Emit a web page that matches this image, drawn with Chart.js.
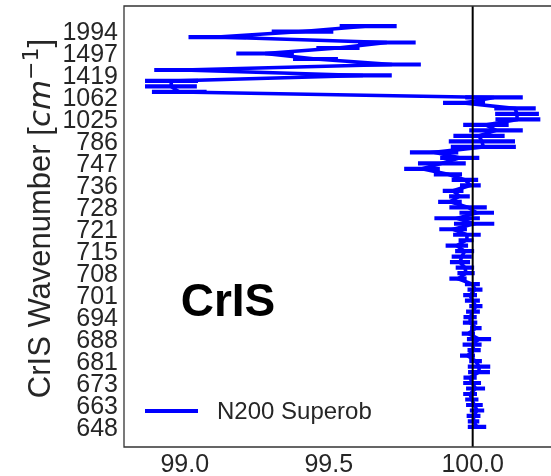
<!DOCTYPE html>
<html>
<head>
<meta charset="utf-8">
<script src="https://cdn.jsdelivr.net/npm/chart.js@4"></script>
<style>
  html, body { margin: 0; padding: 0; background: #fff; }
  #wrap { width: 551px; height: 476px; }
</style>
</head>
<body>
<div id="wrap"><canvas id="crisChart" width="551" height="476"></canvas></div>
<script>
// wavenumber labels shown on every 4th channel, bottom to top
const wavenumberLabels = ['648', '663', '673', '681', '688', '694', '701', '708', '715', '721',
  '728', '736', '747', '786', '1025', '1062', '1419', '1497', '1994'];
const tickStep = 4;

// N200 superob values per channel position (bottom = 0)
const superobValues = [
  100.015, 100.003, 100.003, 100.015, 100.006, 99.997, 99.991, 100.010, 99.998, 99.991,
  100.022, 100.022, 100.010, 99.982, 100.005, 99.998, 100.022, 99.985, 100.011, 99.991,
  99.991, 100.001, 100.011, 99.999, 99.991, 100.008, 99.999, 99.949, 99.977, 99.973,
  99.956, 99.962, 99.972, 99.945, 99.977, 99.980, 99.932, 100.005, 99.946, 100.014,
  99.984, 99.921, 99.954, 99.932, 99.992, 99.973, 99.914, 99.824, 99.893, 99.955,
  99.866, 100.037, 100.032, 100.022, 100.081, 100.046, 100.157, 100.154, 100.147, 99.970,
  100.074, 98.981, 98.952, 98.954, 99.619, 98.994, 99.720, 99.454, 99.279, 99.532,
  99.702, 99.113, 99.409, 99.637
];

// half widths of the horizontal error bars
const superobErrors = [
  0.032, 0.020, 0.024, 0.025, 0.029, 0.023, 0.024, 0.033, 0.031, 0.023,
  0.038, 0.039, 0.022, 0.026, 0.023, 0.033, 0.042, 0.023, 0.020, 0.025,
  0.023, 0.024, 0.023, 0.026, 0.024, 0.026, 0.026, 0.030, 0.030, 0.032,
  0.035, 0.035, 0.033, 0.039, 0.026, 0.048, 0.048, 0.070, 0.079, 0.060,
  0.065, 0.041, 0.036, 0.036, 0.036, 0.046, 0.049, 0.062, 0.083, 0.068,
  0.084, 0.113, 0.115, 0.089, 0.093, 0.079, 0.078, 0.076, 0.072, 0.073,
  0.100, 0.095, 0.090, 0.092, 0.100, 0.100, 0.100, 0.078, 0.100, 0.075,
  0.100, 0.100, 0.107, 0.099
];

const xTicks = [99.0, 99.5, 100.0];
const refValue = 100.0;

const n = superobValues.length;
const yMin = -0.05 * (n - 1);
const yMax = (n - 1) + 0.05 * (n - 1);

const linePoints = superobValues.map((v, i) => ({ x: v, y: i }));
const errPoints = [];
superobValues.forEach((v, i) => {
  errPoints.push({ x: v - superobErrors[i], y: i });
  errPoints.push({ x: v + superobErrors[i], y: i });
  errPoints.push({ x: null, y: null });
});

const textColor = '#262626';

const decorPlugin = {
  id: 'decor',
  afterDraw(chart) {
    const ctx = chart.ctx;
    const a = chart.chartArea;
    ctx.save();

    // spines
    ctx.strokeStyle = '#333';
    ctx.lineWidth = 1.3;
    ctx.beginPath();
    ctx.moveTo(a.right + 2, a.top);
    ctx.lineTo(a.left, a.top);
    ctx.lineTo(a.left, a.bottom);
    ctx.lineTo(a.right + 2, a.bottom);
    ctx.stroke();

    // CrIS label
    ctx.fillStyle = '#000';
    ctx.font = 'bold 46px "Liberation Sans", Arial, sans-serif';
    ctx.textAlign = 'center';
    ctx.textBaseline = 'alphabetic';
    ctx.fillText('CrIS', a.left + 104, a.top + 310);

    // legend
    ctx.strokeStyle = '#0000ff';
    ctx.lineWidth = 4;
    ctx.beginPath();
    ctx.moveTo(a.left + 21, a.top + 405);
    ctx.lineTo(a.left + 74, a.top + 405);
    ctx.stroke();
    ctx.fillStyle = textColor;
    ctx.font = '24px "Liberation Sans", Arial, sans-serif';
    ctx.textAlign = 'left';
    ctx.fillText('N200 Superob', a.left + 93, a.top + 413);

    // y axis title, with math part
    ctx.translate(50, (a.top + a.bottom) / 2);
    ctx.rotate(-Math.PI / 2);
    const mainFont = '31px "Liberation Sans", Arial, sans-serif';
    const mathFont = 'italic 31px "DejaVu Sans", sans-serif';
    const supFont = '22px "DejaVu Sans", sans-serif';
    const parts = [
      { t: 'CrIS Wavenumber [', f: mainFont, dy: 0 },
      { t: 'cm', f: mathFont, dy: 0 },
      { t: '\u22121', f: supFont, dy: -12 },
      { t: ']', f: mainFont, dy: 0 }
    ];
    let total = 0;
    parts.forEach(p => { ctx.font = p.f; p.w = ctx.measureText(p.t).width; total += p.w; });
    let x = -total / 2 + 8;
    parts.forEach(p => {
      ctx.font = p.f;
      ctx.fillText(p.t, x, p.dy);
      x += p.w;
    });
    ctx.restore();
  }
};

const chart = new Chart(document.getElementById('crisChart'), {
  type: 'scatter',
  data: {
    datasets: [
      {
        label: 'ref',
        data: [{ x: refValue, y: yMin }, { x: refValue, y: yMax }],
        showLine: true,
        borderColor: '#000',
        borderWidth: 2,
        pointRadius: 0
      },
      {
        label: 'N200 Superob',
        data: linePoints,
        showLine: true,
        borderColor: '#0000ff',
        borderWidth: 3.6,
        pointRadius: 0,
        tension: 0
      },
      {
        label: 'errors',
        data: errPoints,
        showLine: true,
        spanGaps: false,
        borderColor: '#0000ff',
        borderWidth: 4.2,
        borderCapStyle: 'butt',
        pointRadius: 0
      }
    ]
  },
  options: {
    responsive: false,
    animation: false,
    devicePixelRatio: 1,
    layout: { padding: { top: 6, left: 0, right: 0, bottom: 0 } },
    plugins: {
      legend: { display: false },
      tooltip: { enabled: false }
    },
    scales: {
      x: {
        type: 'linear',
        min: 98.789,
        max: 100.272,
        afterFit: s => { s.height = 29; s.paddingLeft = 0; s.paddingRight = 0; },
        afterBuildTicks: s => { s.ticks = xTicks.map(v => ({ value: v })); },
        grid: { display: false, drawTicks: false },
        border: { display: false },
        ticks: {
          color: textColor,
          padding: 3,
          autoSkip: false,
          maxRotation: 0,
          font: { family: '"Liberation Sans", Arial, sans-serif', size: 25 },
          callback: v => Number(v).toFixed(1)
        }
      },
      y: {
        type: 'linear',
        min: yMin,
        max: yMax,
        afterFit: s => { s.width = 124; s.paddingTop = 0; s.paddingBottom = 0; },
        afterBuildTicks: s => {
          s.ticks = wavenumberLabels.map((l, k) => ({ value: k * tickStep }));
        },
        grid: { display: false, drawTicks: false },
        border: { display: false },
        ticks: {
          color: textColor,
          padding: 6,
          labelOffset: 2,
          autoSkip: false,
          font: { family: '"Liberation Sans", Arial, sans-serif', size: 25 },
          callback: v => wavenumberLabels[Math.round(v / tickStep)]
        }
      }
    }
  },
  plugins: [decorPlugin]
});
</script>
</body>
</html>
